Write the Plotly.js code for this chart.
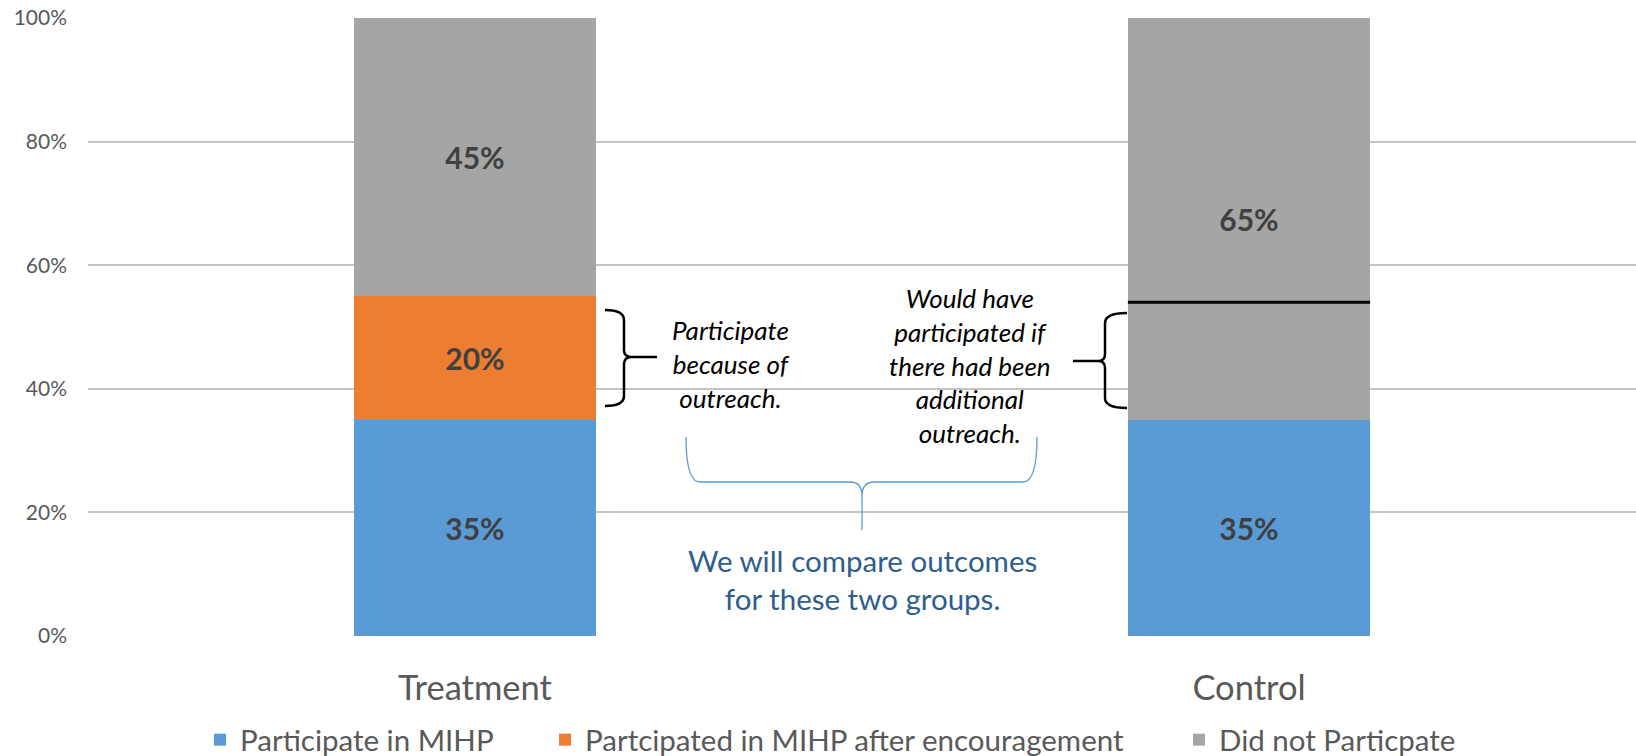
<!DOCTYPE html>
<html>
<head>
<meta charset="utf-8">
<script src="https://cdn.plot.ly/plotly-3.0.1.min.js"></script>
<style>
  html, body { margin: 0; padding: 0; background: #ffffff; }
  #chart { width: 1636px; height: 756px; }
</style>
</head>
<body>
<div id="chart"></div>
<script>
// ---- data ----
const categories = ['Treatment', 'Control'];
const seriesNames = ['Participate in MIHP', 'Partcipated in MIHP after encouragement', 'Did not Particpate'];
const participate = [0.35, 0.35];
const afterEncouragement = [0.20, null];
const didNotParticipate = [0.45, 0.65];
const wouldHaveLevel = 0.54;  // black line inside Control's grey segment
const yTickVals = [0, 0.2, 0.4, 0.6, 0.8, 1.0];
const noteTreatment = 'Participate<br>because of<br>outreach.';
const noteControl = 'Would have<br>participated if<br>there had been<br>additional<br>outreach.';
const noteCompare = 'We will compare outcomes<br>for these two groups.';

// ---- style ----
const W = 1636, H = 756;
const M = { l: 88, r: 0, t: 18, b: 120 };
const PW = W - M.l - M.r, PH = H - M.t - M.b;
const FONT = 'Lato, "Open Sans", sans-serif';
const colors = ['#5B9BD5', '#ED7D31', '#A5A5A5'];
const bargap = 0.687;
const legendIds = ['legend', 'legend2', 'legend3'];
const legendLeftPx = [200, 545, 1179];

// pixel -> paper helpers (for annotation decorations only)
const px = x => ((x - M.l) / PW).toFixed(5);
const py = y => ((M.t + PH - y) / PH).toFixed(5);
function pathFromPixels(cmds) {
  return cmds.map(c => {
    const pts = [];
    for (let i = 1; i < c.length; i += 2) pts.push(px(c[i]) + ',' + py(c[i + 1]));
    return c[0] + pts.join(' ');
  }).join(' ');
}

const seriesData = [participate, afterEncouragement, didNotParticipate];
const traces = seriesData.map((vals, i) => ({
  type: 'bar',
  name: seriesNames[i],
  legend: legendIds[i],
  x: categories,
  y: vals,
  marker: { color: colors[i], line: { width: 0 } },
  texttemplate: '%{y:.0%}',
  textposition: 'inside',
  insidetextanchor: 'middle',
  textangle: 0,
  constraintext: 'none',
  textfont: { family: FONT, size: 30, color: '#404040', weight: 'bold' },
  hoverinfo: 'skip'
}));

const halfBar = (1 - bargap) / 2;

const braceTreatment = pathFromPixels([
  ['M', 605, 310], ['Q', 624, 310, 624, 320], ['L', 624, 350],
  ['Q', 624, 357, 632, 357], ['Q', 624, 357, 624, 364], ['L', 624, 396],
  ['Q', 624, 406, 605, 406], ['M', 632, 357], ['L', 657, 357]
]);
const braceControl = pathFromPixels([
  ['M', 1127, 313], ['Q', 1105, 313, 1105, 323], ['L', 1105, 354],
  ['Q', 1105, 361, 1098, 361], ['Q', 1105, 361, 1105, 368], ['L', 1105, 398],
  ['Q', 1105, 408, 1127, 408], ['M', 1098, 361], ['L', 1073, 361]
]);
const braceBlue = pathFromPixels([
  ['M', 686, 437], ['Q', 686, 482, 700, 482], ['L', 850, 482],
  ['Q', 862, 482, 862, 496], ['Q', 862, 482, 874, 482], ['L', 1023, 482],
  ['Q', 1037, 482, 1037, 437], ['M', 862, 496], ['L', 862, 530]
]);

function legendCfg(i) {
  return {
    orientation: 'h',
    xref: 'container', yref: 'container',
    x: legendLeftPx[i] / W, xanchor: 'left',
    y: (H - 740) / H, yanchor: 'middle',
    font: { family: FONT, size: 29.5, color: '#595959' },
    itemclick: false, bgcolor: 'rgba(0,0,0,0)'
  };
}

const layout = {
  width: W, height: H,
  margin: M,
  paper_bgcolor: '#ffffff',
  plot_bgcolor: '#ffffff',
  barmode: 'stack',
  bargap: bargap,
  font: { family: FONT, color: '#595959' },
  showlegend: true,
  legend: legendCfg(0),
  legend2: legendCfg(1),
  legend3: legendCfg(2),
  xaxis: {
    type: 'category',
    categoryorder: 'array',
    categoryarray: categories,
    range: [-0.5, 1.5],
    showgrid: false,
    zeroline: false,
    showline: false,
    ticks: '',
    ticklabelstandoff: 28,
    tickfont: { family: FONT, size: 34.5, color: '#595959' },
    fixedrange: true
  },
  yaxis: {
    range: [0, 1.0],
    tickvals: yTickVals,
    tickformat: '.0%',
    showgrid: true,
    gridcolor: '#c4c4c4',
    gridwidth: 2,
    zeroline: false,
    showline: false,
    ticks: '',
    ticklabelstandoff: 20,
    tickfont: { family: FONT, size: 21, color: '#595959' },
    fixedrange: true
  },
  shapes: [
    { type: 'line', xref: 'x', yref: 'y', x0: 1 - halfBar, x1: 1 + halfBar,
      y0: wouldHaveLevel, y1: wouldHaveLevel, line: { color: '#000000', width: 3 } },
    { type: 'path', xref: 'paper', yref: 'paper', path: braceTreatment,
      line: { color: '#000000', width: 2.5 } },
    { type: 'path', xref: 'paper', yref: 'paper', path: braceControl,
      line: { color: '#000000', width: 2.5 } },
    { type: 'path', xref: 'paper', yref: 'paper', path: braceBlue,
      line: { color: '#5B9BD5', width: 1.3 } }
  ],
  annotations: [
    { xref: 'paper', yref: 'paper', x: +px(731), y: +py(364), text: noteTreatment,
      showarrow: false, xanchor: 'center', yanchor: 'middle', align: 'center',
      font: { family: FONT, size: 26, color: '#000000', style: 'italic' } },
    { xref: 'paper', yref: 'paper', x: +px(970), y: +py(365), text: noteControl,
      showarrow: false, xanchor: 'center', yanchor: 'middle', align: 'center',
      font: { family: FONT, size: 26, color: '#000000', style: 'italic' } },
    { xref: 'paper', yref: 'paper', x: +px(862), y: +py(579), text: noteCompare,
      showarrow: false, xanchor: 'center', yanchor: 'middle', align: 'center',
      font: { family: FONT, size: 29.5, color: '#2E5E8C' } }
  ]
};

Plotly.newPlot('chart', traces, layout, { staticPlot: true, displayModeBar: false });
</script>
</body>
</html>
